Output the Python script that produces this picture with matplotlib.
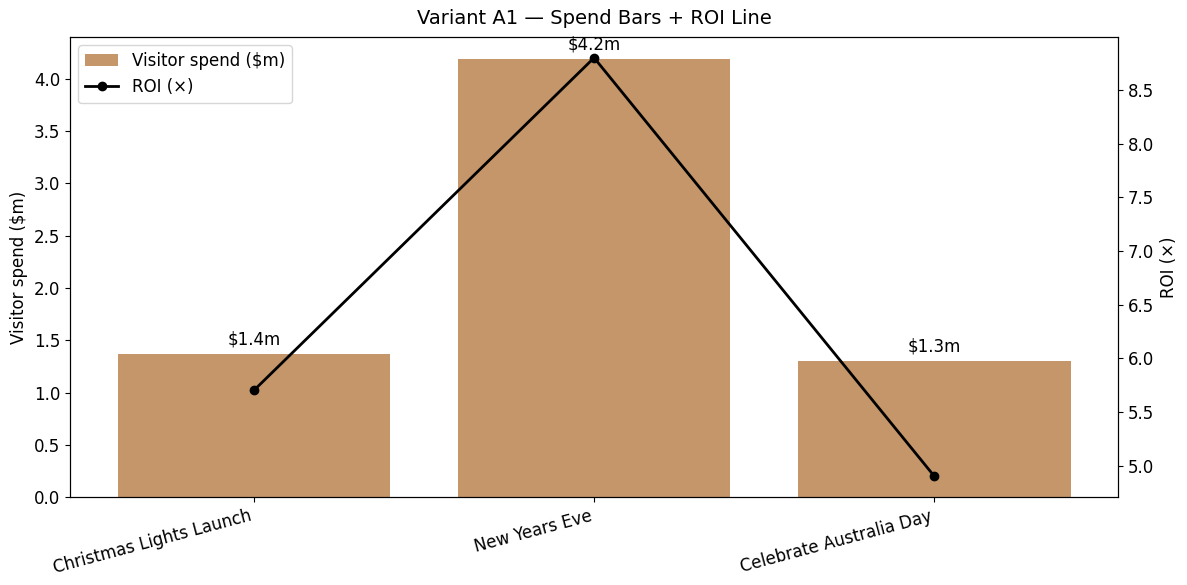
import matplotlib
matplotlib.use('Agg')
import matplotlib.pyplot as plt
import numpy as np

events = ['Christmas Lights Launch', 'New Years Eve', 'Celebrate Australia Day']
spend = [1.365, 4.19, 1.30]
spend_labels = ['$1.4m', '$4.2m', '$1.3m']
roi = [5.7, 8.8, 4.9]

fig, ax = plt.subplots(figsize=(11.87, 5.85), dpi=100)
x = np.arange(len(events))

bars = ax.bar(x, spend, width=0.8, color='#c4966a', label='Visitor spend ($m)')
for xi, h, lab in zip(x, spend, spend_labels):
    ax.annotate(lab, (xi, h), xytext=(0, 4), textcoords='offset points',
                ha='center', va='bottom', fontsize=12)
ax.set_ylabel('Visitor spend ($m)', fontsize=12)
ax.set_xticks(x)
ax.set_xticklabels(events, rotation=15, ha='right', fontsize=12)
ax.tick_params(axis='y', labelsize=12)

ax2 = ax.twinx()
line, = ax2.plot(x, roi, color='black', marker='o', linewidth=2, label='ROI (×)')
ax2.set_ylabel('ROI (×)', fontsize=12)
ax2.tick_params(axis='y', labelsize=12)

ax.legend([bars, line], ['Visitor spend ($m)', 'ROI (×)'], loc='upper left', fontsize=12)
ax.set_title('Variant A1 — Spend Bars + ROI Line', fontsize=14, pad=9)

fig.subplots_adjust(left=0.059, right=0.942, top=0.937, bottom=0.150)
fig.savefig('out.png', dpi=100)
